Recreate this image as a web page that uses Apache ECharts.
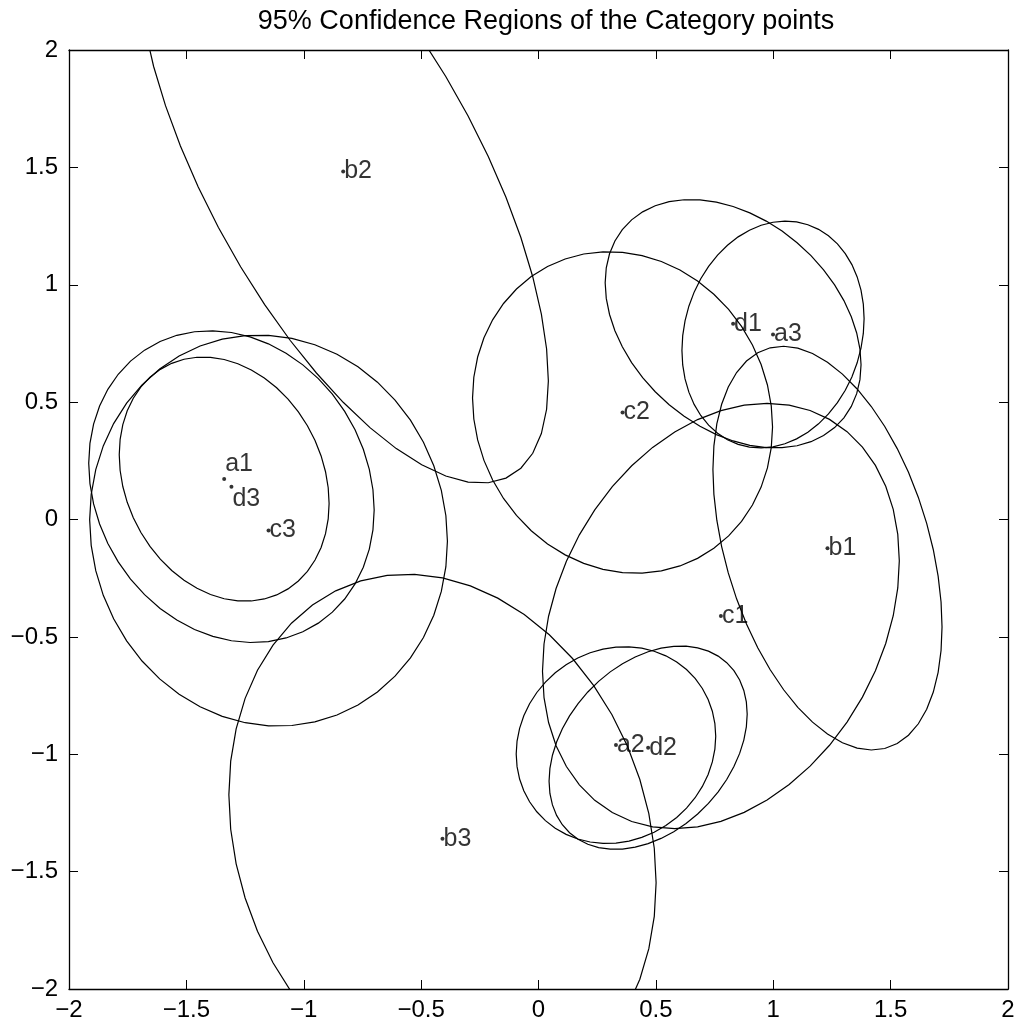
<!DOCTYPE html>
<html>
<head>
<meta charset="utf-8">
<script src="https://cdn.jsdelivr.net/npm/echarts@6/dist/echarts.min.js"></script>
<style>
html,body{margin:0;padding:0;background:#fff;}
#chart{width:1021px;height:1030px;}
</style>
</head>
<body>
<div id="chart"></div>
<script>
// ---- data ----
const chartTitle = '95% Confidence Regions of the Category points';
const pointNames = ['a1', 'a2', 'a3', 'b1', 'b2', 'b3', 'c1', 'c2', 'c3', 'd1', 'd2', 'd3'];
const pointX = [-1.339, 0.330, 0.999, 1.231, -0.832, -0.409, 0.777, 0.358, -1.150, 0.829, 0.467, -1.308];
const pointY = [0.172, -0.961, 0.788, -0.122, 1.482, -1.360, -0.411, 0.456, -0.047, 0.834, -0.972, 0.140];
// confidence ellipse of each point: half extent along x, half extent along y, x-y correlation (tilt)
const ellipseHalfX = [0.447, 0.425, 0.388, 0.488, 0.874, 0.910, 0.760, 0.639, 0.762, 0.545, 0.422, 0.608];
const ellipseHalfY = [0.520, 0.419, 0.483, 0.860, 1.327, 1.127, 0.906, 0.685, 0.833, 0.529, 0.433, 0.664];
const ellipseCorr  = [-0.20, 0.09, 0.14, -0.39, -0.672, -0.166, 0.26, -0.09, -0.055, -0.33, 0.33, -0.15];
const axisMin = -2, axisMax = 2, axisStep = 0.5;

// label nudges (pixels) for crowded labels
const labelNudge = { a1: [0, -15], d3: [0, 12] };

const FONT = "'Liberation Sans', Arial, Helvetica, sans-serif";
const chart = echarts.init(document.getElementById('chart'), null, { renderer: 'canvas' });

function fmt(v) { return String(v).replace('-', '\u2212'); }

const ellipseData = pointNames.map((n, i) => [pointX[i], pointY[i], ellipseHalfX[i], ellipseHalfY[i], ellipseCorr[i]]);
const pointData = pointNames.map((n, i) => {
  const item = { name: n, value: [pointX[i], pointY[i]] };
  if (labelNudge[n]) item.label = { offset: labelNudge[n] };
  return item;
});

const SEG = 48;
function renderEllipse(params, api) {
  const cx = api.value(0), cy = api.value(1), hx = api.value(2), hy = api.value(3), r = api.value(4);
  const s = Math.sqrt(1 - r * r);
  const pts = [];
  for (let k = 0; k < SEG; k++) {
    const t = 2 * Math.PI * k / SEG;
    pts.push(api.coord([cx + hx * Math.cos(t), cy + hy * (r * Math.cos(t) + s * Math.sin(t))]));
  }
  return {
    type: 'polygon',
    shape: { points: pts },
    style: { fill: null, stroke: '#000', lineWidth: 1.2 }
  };
}

const baseAxis = {
  type: 'value', min: axisMin, max: axisMax, interval: axisStep,
  axisLine: { show: true, onZero: false, lineStyle: { color: '#000', width: 1.3 } },
  axisTick: { show: true, inside: true, length: 9, lineStyle: { color: '#000', width: 1 } },
  splitLine: { show: false },
  axisLabel: { show: true, color: '#000', fontSize: 24, fontFamily: FONT, formatter: fmt }
};

chart.setOption({
  backgroundColor: '#fff',
  animation: false,
  title: {
    text: chartTitle, left: 541, top: 3, textAlign: 'center',
    textStyle: { fontSize: 27, fontWeight: 'normal', color: '#000', fontFamily: FONT }
  },
  grid: { left: 69, top: 50, width: 939, height: 939, containLabel: false },
  xAxis: [
    Object.assign({}, baseAxis, { position: 'bottom', axisLabel: Object.assign({}, baseAxis.axisLabel, { margin: 9 }) }),
    Object.assign({}, baseAxis, { position: 'top', axisLabel: { show: false } })
  ],
  yAxis: [
    Object.assign({}, baseAxis, { position: 'left', axisLabel: Object.assign({}, baseAxis.axisLabel, { margin: 11 }) }),
    Object.assign({}, baseAxis, { position: 'right', axisLabel: { show: false } })
  ],
  series: [
    {
      type: 'custom', name: 'regions', xAxisIndex: 0, yAxisIndex: 0,
      clip: true, silent: true,
      encode: { x: 0, y: 1 },
      data: ellipseData,
      renderItem: renderEllipse,
      z: 2
    },
    {
      type: 'scatter', name: 'points', xAxisIndex: 0, yAxisIndex: 0,
      symbol: 'circle', symbolSize: 4,
      itemStyle: { color: '#000' },
      label: {
        show: true, position: 'right', distance: -1,
        formatter: '{b}', color: '#000', fontSize: 25, fontFamily: FONT
      },
      data: pointData,
      z: 3
    }
  ]
});
</script>
</body>
</html>
